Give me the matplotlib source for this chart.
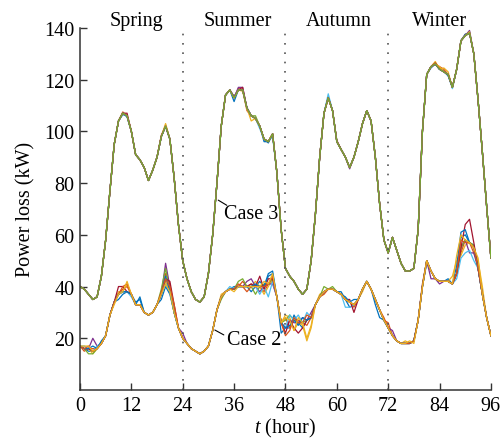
import numpy as np
import matplotlib
matplotlib.use('Agg')
import matplotlib.pyplot as plt

''' hourly power loss, 4 typical days (spring, summer, autumn, winter) '''
hours = list(range(0, 97))

case3_base = [40, 39, 37, 35, 36, 44, 58, 77, 95, 104,
              107, 106, 100, 91, 89, 86, 81, 85, 90, 98,
              102, 97, 82, 64, 50, 43, 38, 35, 34, 36,
              45, 60, 80, 102, 114, 116, 113, 116, 116, 109,
              106, 105, 102, 97, 96, 99, 84, 62, 47, 44,
              42, 39, 37, 39, 50, 68, 90, 107, 113, 108,
              96, 93, 90, 86, 90, 96, 103, 108, 104, 90,
              72, 58, 53, 59, 54, 49, 46, 46, 47, 62,
              100, 122, 125, 126, 124, 123, 122, 117, 124, 135,
              137, 138, 130, 112, 92, 71, 51]

case2_base = [17, 16, 16, 15, 16, 18, 21, 29, 34, 37,
              38, 38, 37, 33, 33, 30, 29, 30, 33, 37,
              43, 38, 30, 24, 20, 18, 16, 15, 14, 15,
              17, 23, 31, 36, 38, 39, 39, 40, 40, 40,
              40, 40, 40, 40, 41, 43, 36, 26, 24, 27,
              27, 26, 26, 27, 28, 33, 36, 38, 39, 39,
              38, 37, 35, 34, 33, 35, 39, 42, 39, 35,
              31, 27, 24, 21, 19, 18, 18, 18, 19, 27,
              40, 50, 46, 43, 42, 42, 42, 41, 45, 55,
              58, 57, 55, 47, 37, 28, 21]

''' scatter of the individual runs around the base curves (read off the plot) '''
case2_dev = [
    {2: -1, 9: -2, 10: -1, 13: 1, 14: 2, 19: -2, 20: -3, 21: -1, 36: 1, 40: -2, 42: 2, 44: 3,
     45: 2, 47: -4, 49: -3, 50: 2, 52: -2, 61: 1, 63: -2, 69: -2, 70: -3, 81: -1, 86: 1, 89: 4, 90: 2, 92: 1},
    {1: -1, 3: 1, 10: 1, 11: 2, 20: 2, 21: 3, 38: 2, 40: 1, 43: -2, 45: -1, 48: 4, 49: -3, 51: 1,
     53: -2, 57: -1, 64: -1, 72: 2, 89: -2, 92: -2, 93: 2},
    {3: -1, 9: 1, 11: 3, 20: -1, 33: 1, 41: 2, 43: -3, 44: -1, 48: 5, 49: 1, 50: -4, 52: -1, 53: -8,
     54: -4, 56: 1, 66: -1, 76: 1, 87: 3, 88: 5, 89: -3, 90: -2, 93: 3, 94: 3},
    {3: 5, 4: 1, 20: 6, 21: 2, 24: 2, 39: 2, 40: 3, 42: -2, 45: -2, 50: -1, 52: 2, 54: 2, 73: 2,
     82: -3, 84: -1, 91: -4, 92: -2},
    {2: -2, 3: -1, 19: 2, 20: 4, 33: -1, 37: 2, 38: 3, 41: -3, 43: 1, 48: 3, 49: 2, 57: 2, 59: 1, 92: 1},
    {1: 1, 4: 1, 12: -1, 20: -2, 35: 1, 42: -3, 44: -5, 45: -1, 49: 2, 51: 3, 53: 3, 62: -3, 63: -2,
     88: -2, 89: -4, 90: -5, 91: -3, 92: -5},
    {9: 3, 10: 2, 21: 4, 22: 3, 40: 1, 42: 4, 43: -1, 44: 2, 48: -2, 50: -3, 51: -4, 52: -2, 63: 1,
     64: -3, 80: 1, 90: 6, 91: 9, 92: 2},
    {3: 2, 5: 1, 14: 3, 20: 1, 41: 1, 44: 4, 45: 3, 49: -2, 51: -1, 52: 2, 62: 1, 64: 2, 88: 3, 89: 6, 90: 4},
    {2: 1, 10: 2, 11: 3, 19: 1, 21: 2, 22: 3, 37: 1, 39: -2, 45: 1, 48: -3, 49: -4, 50: 1, 53: 2,
     71: 1, 89: 3, 90: -1},
    {1: 1, 2: 1, 8: -1, 11: 4, 20: -2, 36: -1, 43: 2, 45: 2, 48: 4, 50: -4, 51: 2, 53: -7, 54: -3,
     77: 1, 78: -1, 88: 7, 89: 5, 93: 4},
]

case3_dev = [
    {10: -0.5, 36: -1.5, 43: -1, 45: -0.5, 58: 0.5, 82: -0.5, 85: 0.5, 86: -0.5, 91: 0.5},
    {10: 0.5, 37: 0.5, 39: -1, 84: 1, 85: 1},
    {20: 1, 38: -0.5, 40: -2, 58: -0.5, 83: 1, 85: 1.5, 86: 1},
    {37: 1, 38: 1, 63: -0.5, 91: 1},
    {41: 1, 83: 0.5},
    {10: -0.5, 42: -1, 45: -1, 58: 1.5, 87: -0.5},
    {11: 1, 38: 1, 60: 0.5, 90: 0.5},
    {11: -0.5, 44: -0.5, 86: -0.5, 90: 0.5},
    {19: 0.5, 83: 0.5, 84: 0.5},
    {20: 0.5, 39: -0.5, 84: 1, 91: 0.5},
    {36: 0.5},
    {},
]

seasons = ['Spring', 'Summer', 'Autumn', 'Winter']
season_x = [13.3, 36.8, 60.4, 84.0]
boundaries = [24, 48, 72]

colors = ['#0072BD', '#D95319', '#EDB120', '#7E2F8E', '#77AC30', '#4DBEEE', '#A2142F']

plt.rcParams['font.family'] = ['Liberation Serif', 'DejaVu Serif']
plt.rcParams['mathtext.fontset'] = 'custom'
plt.rcParams['mathtext.rm'] = 'Liberation Serif'
plt.rcParams['mathtext.it'] = 'Liberation Serif:italic'
plt.rcParams['font.size'] = 14.5

def run_curve(base, dev):
    y = np.array(base, dtype=float)
    for h, d in dev.items():
        y[h] += d
    return y

fig = plt.figure(figsize=(5.03, 4.39), dpi=100)
ax = fig.add_axes([0.159, 0.1093, 0.817, 0.825])

for i, dev in enumerate(case2_dev):
    ax.plot(hours, run_curve(case2_base, dev), color=colors[i % 7], lw=0.9)
for i, dev in enumerate(case3_dev):
    ax.plot(hours, run_curve(case3_base, dev), color=colors[i % 7], lw=0.9)

for b in boundaries:
    ax.plot([b, b], [0, 140], color='#555555', lw=1.2, linestyle=(0, (1, 4.6)))

for name, x in zip(seasons, season_x):
    ax.text(x, 142.7, name, ha='center', va='center', clip_on=False)

# labels with short leader lines to the curves
leader = dict(arrowstyle='-', color='black', lw=0.8, shrinkA=0, shrinkB=0)
ax.annotate('', xy=(32.3, 73.4), xytext=(34.3, 71.4), arrowprops=leader)
ax.text(33.6, 68.3, 'Case 3', ha='left', va='center')
ax.annotate('', xy=(31.5, 23.2), xytext=(33.6, 21.3), arrowprops=leader)
ax.text(34.3, 19.4, 'Case 2', ha='left', va='center')

ax.set_xlim(0, 96)
ax.set_ylim(0, 140)
ax.set_xticks(range(0, 97, 12))
ax.set_yticks(range(20, 141, 20))
ax.spines['top'].set_visible(False)
ax.spines['right'].set_visible(False)
for s in ['left', 'bottom']:
    ax.spines[s].set_color('#333333')
    ax.spines[s].set_linewidth(1.1)
ax.tick_params(direction='in', length=5, width=1, color='#333333', pad=4)

ax.set_xlabel('$t$ (hour)', labelpad=1)
ax.set_ylabel('Power loss (kW)', labelpad=6)

fig.savefig('out.png', dpi=100)
